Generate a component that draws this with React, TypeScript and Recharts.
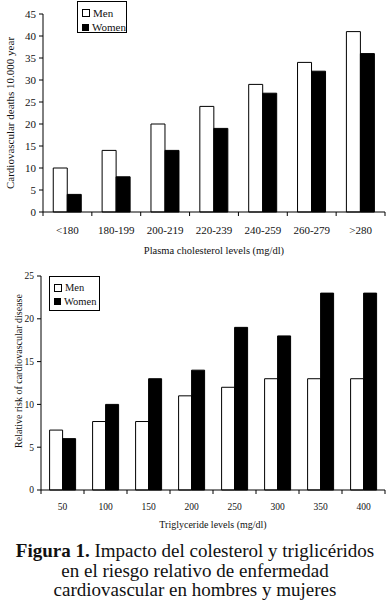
import { BarChart, Bar, XAxis, YAxis } from 'recharts'

const cholCategories = ['<180', '180-199', '200-219', '220-239', '240-259', '260-279', '>280']
const cholMen = [10, 14, 20, 24, 29, 34, 41]
const cholWomen = [4, 8, 14, 19, 27, 32, 36]
const cholTicks = [0, 5, 10, 15, 20, 25, 30, 35, 40, 45]

const trigCategories = ['50', '100', '150', '200', '250', '300', '350', '400']
const trigMen = [7, 8, 8, 11, 12, 13, 13, 13]
const trigWomen = [6, 10, 13, 14, 19, 18, 23, 23]
const trigTicks = [0, 5, 10, 15, 20, 25]

const FONT = '"Liberation Serif", "DejaVu Serif", serif'

const cholData = cholCategories.map((name, i) => ({ name, men: cholMen[i], women: cholWomen[i] }))
const trigData = trigCategories.map((name, i) => ({ name, men: trigMen[i], women: trigWomen[i] }))

function makeTick(band: number, count: number, fontSize: number, drop: number) {
  return (props: any) => {
    const { x, y, payload, index } = props
    const axisY = y - drop
    return (
      <g>
        <line x1={x - band / 2} x2={x - band / 2} y1={axisY} y2={axisY + 4} stroke="#000" />
        {index === count - 1 && (
          <line x1={x + band / 2} x2={x + band / 2} y1={axisY} y2={axisY + 4} stroke="#000" />
        )}
        <text x={x} y={y} dy="0.71em" textAnchor="middle" fontSize={fontSize} fontFamily={FONT} fill="#111">
          {payload.value}
        </text>
      </g>
    )
  }
}

function yTitle(text: string, dx: number, fontSize: number, shift = 0) {
  return (props: any) => {
    const vb = props.viewBox
    const cx = vb.x + dx
    const cy = vb.y + vb.height / 2 + shift
    return (
      <text x={cx} y={cy} transform={`rotate(-90 ${cx} ${cy})`} textAnchor="middle" dominantBaseline="central"
        fontSize={fontSize} fontFamily={FONT} fill="#111">
        {text}
      </text>
    )
  }
}

function LegendBox({ left, top, width, height, fontSize }: { left: number; top: number; width: number; height: number; fontSize: number }) {
  return (
    <div style={{ position: 'absolute', left, top, border: '1px solid #000', width, height, boxSizing: 'border-box', padding: '4px 0 0 4px', fontFamily: FONT, fontSize, lineHeight: `${fontSize + 3}px`, background: '#fff', color: '#111' }}>
      <div style={{ display: 'flex', alignItems: 'center' }}>
        <span style={{ display: 'inline-block', width: 6, height: 6, border: '1px solid #000', background: '#fff', marginRight: 3 }} />Men
      </div>
      <div style={{ display: 'flex', alignItems: 'center' }}>
        <span style={{ display: 'inline-block', width: 7, height: 7, background: '#000', marginRight: 3 }} />Women
      </div>
    </div>
  )
}

export default function App() {
  return (
    <div style={{ position: 'absolute', left: 0, top: 0, width: 390, height: 603, background: '#fff', overflow: 'hidden' }}>
      <div style={{ position: 'absolute', left: 0, top: 0 }}>
        <BarChart width={390} height={260} data={cholData} margin={{ top: 14, right: 5, bottom: 0, left: 0 }}
          barCategoryGap="21%" barGap={0}>
          <XAxis dataKey="name" height={48} axisLine={{ stroke: '#000' }} tickLine={false} tickSize={4} tickMargin={10}
            interval={0} tick={makeTick(342 / 7, 7, 11, 14)}
            label={{ value: 'Plasma cholesterol levels (mg/dl)', position: 'insideBottom', offset: 6, fontSize: 10.5, fontFamily: FONT, fill: '#111' }} />
          <YAxis width={43} domain={[0, 45]} ticks={cholTicks} interval={0} axisLine={{ stroke: '#000' }}
            tickLine={{ stroke: '#000' }} tickSize={4} tickMargin={3}
            tick={{ fontSize: 11, fontFamily: FONT, fill: '#111' }}
            label={{ content: yTitle('Cardiovascular deaths 10.000 year', 10, 11) }} />
          <Bar dataKey="men" name="Men" fill="#fff" stroke="#000" strokeWidth={1} isAnimationActive={false} />
          <Bar dataKey="women" name="Women" fill="#000" stroke="#000" strokeWidth={1} isAnimationActive={false} />
        </BarChart>
        <LegendBox left={77} top={1} width={50} height={32} fontSize={11} />
      </div>
      <div style={{ position: 'absolute', left: 0, top: 260 }}>
        <BarChart width={390} height={270} data={trigData} margin={{ top: 16, right: 5, bottom: 0, left: 0 }}
          barCategoryGap="20%" barGap={0}>
          <XAxis dataKey="name" height={40} axisLine={{ stroke: '#000' }} tickLine={false} tickSize={4} tickMargin={9}
            interval={0} tick={makeTick(344 / 8, 8, 9.5, 13)}
            label={{ value: 'Triglyceride levels (mg/dl)', position: 'insideBottom', offset: 2, fontSize: 10, fontFamily: FONT, fill: '#111' }} />
          <YAxis width={41} domain={[0, 25]} ticks={trigTicks} interval={0} axisLine={{ stroke: '#000' }}
            tickLine={{ stroke: '#000' }} tickSize={4} tickMargin={3}
            tick={{ fontSize: 9.5, fontFamily: FONT, fill: '#111' }}
            label={{ content: yTitle('Relative risk of cardiovascular disease', 18, 10, -12) }} />
          <Bar dataKey="men" name="Men" fill="#fff" stroke="#000" strokeWidth={1} isAnimationActive={false} />
          <Bar dataKey="women" name="Women" fill="#000" stroke="#000" strokeWidth={1} isAnimationActive={false} />
        </BarChart>
        <LegendBox left={49} top={16} width={51} height={35} fontSize={10.5} />
      </div>
      <div style={{ position: 'absolute', left: 0, top: 541, width: 390, textAlign: 'center', fontFamily: FONT, fontSize: 19, lineHeight: '19.5px', color: '#111' }}>
        <b>Figura 1.</b> Impacto del colesterol y triglicéridos<br />
        en el riesgo relativo de enfermedad<br />
        cardiovascular en hombres y mujeres
      </div>
    </div>
  )
}
